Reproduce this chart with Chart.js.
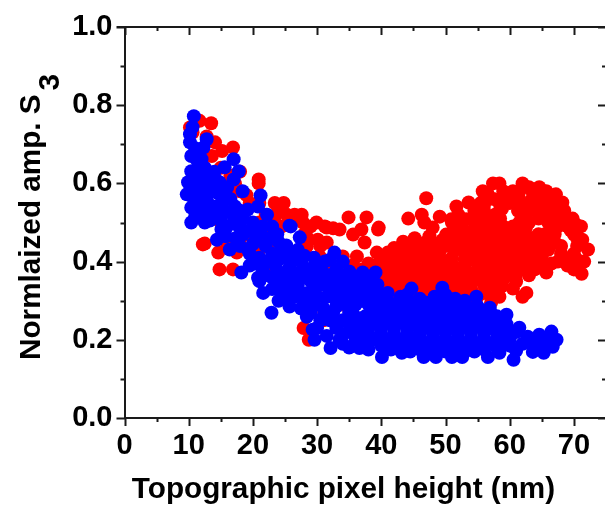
<!DOCTYPE html>
<html>
<head>
<meta charset="utf-8">
<script src="https://cdn.jsdelivr.net/npm/chart.js@4/dist/chart.umd.min.js"></script>
<style>
  html, body { margin: 0; padding: 0; background: #fff; overflow: hidden; width: 605px; height: 508px; }
</style>
</head>
<body>
<canvas id="myChart" width="613" height="508"></canvas>
<script>
const xTitle = 'Topographic pixel height (nm)';
const yTitle = 'Normlaized amp. S';
const ySub = '3';
const xMajor = [0, 10, 20, 30, 40, 50, 60, 70];
const xMinor = [5, 15, 25, 35, 45, 55, 65, 75];
const yMajor = [0, 0.2, 0.4, 0.6, 0.8, 1.0];
const yMinor = [0.1, 0.3, 0.5, 0.7, 0.9];

// red, falling branch on the left
const redLeft = [
  [10.2,.743],[10.6,.73],[11.7,.76],[13.5,.754],[12.8,.72],[14.1,.705],[15.2,.683],[16.9,.692],[13.6,.67],
  [12,.65],[15,.64],[16.5,.62],[18,.63],[17.2,.6],[16.4,.575],[20.9,.61],[20.9,.6],[19,.57],[21,.55],
  [23.4,.55],[24.8,.55],[25.3,.52],[23.6,.52],[22,.52],[27.6,.52],[26,.5],[24.5,.49],[29.9,.5],[31.2,.49],
  [27.8,.5],[28,.47],[30.1,.456],[31.5,.449],[31.5,.487],[33.5,.482],[34.9,.513],[37.7,.513],[36.9,.482],
  [35.6,.469],[39.6,.487],[39.5,.482],[37.4,.449],[28.4,.439],[12.2,.444],[12.5,.446],[14.6,.423],[14.8,.38],
  [16.9,.38],[17.5,.423],[18,.444],[16,.44],[19,.47],[21,.43],[21,.5],[18,.51],[15,.5],[13,.52],[22,.47],
  [24,.44],[23,.39],[26,.4],[27,.36],[26,.33],[29,.38],[30.4,.413],[32,.39],[34,.413],[36.2,.413],
  [33,.37],[35,.36],[37,.38],[33,.33],[30,.31],[28.7,.2],[27.9,.23],[29,.27],[31,.25],[34,.29],[36,.31],
  [29,.49],[32.5,.485],[28.5,.46],[26.5,.52],[24,.53],[22.5,.5],[19.5,.55],[18,.58],[38,.395],[35.5,.39],[30.5,.44]
];
// red, large cloud on the right
const redCloud = [
  [39.3,.423],[41,.423],[43.4,.451],[45.2,.46],[47,.45],[50.1,.469],[48,.487],[46.7,.5],[46.3,.52],[44.2,.51],
  [47,.562],[49.1,.515],[50.9,.508],[51.7,.541],[53.6,.551],[53.2,.508],[55.8,.58],[57.4,.6],[58.4,.6],[62,.6],
  [60.5,.58],[64.6,.59],[65.7,.58],[67.2,.572],[68.2,.551],[67.4,.52],[69.8,.51],[71.1,.49],[71.3,.456],
  [72.2,.431],[71.6,.4],[71.2,.369],[70,.38],[68.5,.41],[65.7,.372],[63.9,.38],[62.6,.387],[60.9,.362],
  [61,.349],[60.5,.331],[62.6,.32],[62,.31],[58.7,.336],[57.9,.367],[58.4,.31],[57.1,.295],
  [55.5,.55],[57.5,.56],[59.5,.56],[61.5,.56],[63.5,.56],[65.5,.55],[56,.53],[57.7,.52],[61.3,.53],[63,.53],
  [65,.52],[66.3,.54],[61.5,.5],[63,.5],[66,.5],[67.5,.49],[55,.5],[57,.49],[59,.49],[54,.47],[56,.46],
  [58,.46],[60,.47],[62,.47],[63.5,.46],[65.5,.47],[67,.47],[69.5,.48],[70.5,.46],[51.5,.48],[53,.45],
  [49,.44],[47,.43],[45,.43],[43,.42],[41,.4],[39,.39],[38.5,.36],[40.5,.37],[42.5,.39],[44.5,.4],[46.5,.4],
  [48,.41],[51.5,.43],[53,.42],[55,.43],[57,.43],[59,.43],[61,.44],[62.5,.43],[64.3,.43],[66,.45],[68,.44],
  [70,.42],[69,.39],[64.5,.4],[66.5,.395],[62.5,.41],[60.5,.41],[58.5,.4],[56.5,.4],[55,.395],
  [53,.39],[51.5,.385],[49.5,.38],[47.5,.37],[45.5,.37],[43.5,.36],[41.5,.34],[43,.33],[45,.34],[47,.34],
  [49,.35],[51,.355],[52.5,.36],[55.8,.37],[56,.34],[54,.33],[52,.325],[50,.32],[48,.31],[46,.31],[44,.3],
  [42,.31],[55,.31],[52.5,.3],[40,.33],[38,.34],[39,.31]
];
// red, gaps between the cloud points above
const redFill = [
  [56.5,.575],[59,.58],[61.5,.58],[63.5,.58],[66.5,.56],[54.5,.53],[58.8,.535],[62,.545],[64.5,.54],[67,.54],
  [56,.51],[58.5,.51],[62.2,.515],[64.5,.51],[66.5,.515],[68.5,.5],[70.3,.495],[52.5,.49],[54.5,.485],[56,.48],
  [58,.475],[60.5,.49],[62.5,.485],[64.5,.47],[66.5,.485],[66.5,.465],[45,.445],[47.5,.465],[49.5,.455],
  [52,.46],[54.5,.45],[57,.45],[59,.45],[61,.455],[63,.445],[65,.45],[67,.45],[68,.42],[70.5,.44],[40,.41],[42,.41],
  [44,.41],[46,.415],[49,.42],[51,.41],[53,.405],[55,.415],[57,.415],[59,.415],[61,.425],[63.5,.415],[65,.415],
  [70.5,.405],[38.5,.375],[40,.385],[42,.375],[44,.38],[46,.385],[48,.39],[50.5,.395],[54,.37],[56,.385],[58,.385],
  [60,.39],[61.5,.395],[63,.4],[65,.385],[67.5,.4],[39.5,.35],[41.5,.36],[44,.345],[46,.355],[48,.355],[50,.365],
  [52,.37],[57,.35],[59,.355],[60,.375],[42,.325],[44.5,.32],[46.5,.325],[49,.335],[51,.335],[53,.345],[55,.355],
  [57.5,.325],[53.5,.315],[56,.32],[50,.305],[47,.295],[41,.305]
];
// red, the solid left side of the cloud
const redDense = [
  [40.5,.405],[42,.435],[43,.4],[44,.435],[45,.415],[46,.445],[47,.41],[48,.445],[48.5,.425],[50,.44],[51,.45],
  [50,.4],[49,.395],[47,.385],[45,.39],[43,.37],[41,.355],[42.5,.35],[44.5,.36],[46.5,.37],[48.5,.37],[50.5,.375],
  [52.5,.38],[53.5,.41],[52,.44],[55,.44],[56.5,.44],[58,.44],[60,.44],[54,.43],[53,.47],[55,.47],[57,.47],[51,.5],
  [52,.52],[54.5,.515],[56,.545],[58.5,.545],[60,.55],[60.3,.56],[63,.59],[67,.55],[65,.57],[66,.53],[68.5,.53],
  [69,.49],[70,.47],[66,.43],[64,.44],[62,.45],[60,.45],[58,.42],[56,.41],[57,.38],[59,.37],[61,.37],[63,.365],
  [46,.33],[48,.33],[50,.34],[52,.35],[54,.35],[56,.355],[58,.345],[45,.31],[47,.32],[51,.315],[54,.3]
];
// blue, falling branch on the left
const blueLeft = [
  [10.8,.772],[10.6,.744],[10.2,.726],[10.2,.705],[12.8,.713],[12.3,.692],[10.4,.67],[12,.662],[17,.662],
  [15.6,.641],[17.8,.631],[17,.61],[18.4,.58],[21.2,.569],[10.4,.631],[9.9,.603],[9.7,.572],[10.4,.538],
  [10.4,.5],[14.8,.603],[17.2,.541],[19.2,.533],[20.8,.541],[22.2,.52],[25.7,.492],[25.9,.49],[14.4,.456],
  [15.1,.482],[16.4,.431],[18.2,.372],[19.2,.431],[22.9,.269],[21.6,.32],[20.8,.359],[25.2,.441],[27.3,.462],
  [32.7,.423],[34,.4],[31.2,.4],[25.7,.285],[28.4,.259],[29.6,.2],[29.3,.226],[12,.64],[11.5,.61],[13,.62],
  [14,.63],[12,.58],[13.8,.59],[11.5,.55],[13,.55],[15,.57],[16,.59],[16.5,.56],[12,.52],[14,.52],[15.5,.53],
  [17,.5],[18.5,.51],[16,.49],[12.5,.5],[20,.5],[21.5,.49],[23,.49],[18.5,.47],[20.5,.46],[22.5,.46],[24,.45],
  [19.5,.42],[21,.41],[23,.42],[25,.41],[27,.43],[19.5,.39],[21.5,.38],[23.5,.39],[25.5,.38],[27.5,.4],[29.5,.41],
  [21,.35],[23,.36],[25,.35],[27,.37],[29,.38],[23,.33],[25,.32],[27,.34],[29,.35],[31,.37],[33,.38],[35,.375],
  [24,.3],[26.5,.31],[28.5,.32],[30.5,.34],[32.5,.35],[34.5,.35],[27.5,.28],[29.5,.29],[31.5,.31],[33.5,.32],
  [35.5,.33],[37,.35],[30.5,.25],[32.5,.27],[34.5,.29],[36.5,.31]
];
// blue, gaps in the left branch
const blueLeftFill = [
  [11,.69],[11.3,.66],[12.5,.64],[11,.62],[12.5,.605],[14.2,.61],[11,.585],[12.8,.57],[14.5,.575],[10.8,.56],
  [12.3,.535],[14,.54],[15.2,.55],[16.5,.525],[18,.53],[11,.515],[13.3,.505],[15,.505],[17.8,.49],[19.5,.48],
  [21,.475],[15.8,.465],[17.3,.46],[18,.44],[20,.445],[22,.44],[23.8,.47],[24.5,.43],[26.3,.42],[20.5,.395],
  [22.3,.4],[24,.405],[26,.4],[28,.415],[22,.365],[24,.37],[26,.365],[28,.385],[30,.395],[32,.405],[24,.345],
  [26,.34],[28,.36],[30,.365],[32,.365],[34,.365],[24.5,.32],[27.5,.32],[29.5,.33],[31.5,.34],[33.5,.34],[35.5,.35],
  [25.5,.3],[28,.3],[30,.31],[32,.32],[34.5,.32],[36.3,.34],[29,.27],[31,.28],[33,.3],[35.5,.31],[37.5,.32],[30,.23],
  [31,.26],[33,.285],[35,.27]
];
// blue, flat band along the bottom
const blueBand = [
  [39.1,.372],[37.1,.372],[39.4,.341],[37.9,.328],[41,.32],[44.7,.331],[49.5,.333],[48.3,.31],[54.8,.31],[51.5,.305],
  [56.9,.282],[59.5,.264],[61.5,.231],[62.8,.208],[64.6,.213],[66.5,.221],[67.3,.2],[66.7,.182],[65.3,.167],
  [63.6,.169],[61,.172],[60.6,.149],[58.4,.167],[56.6,.156],[52.6,.156],[51,.156],[48.5,.156],[46.6,.156],
  [43.2,.167],[40.1,.156],[36.6,.179],[32.1,.179],[33.5,.2],[35,.18],[38,.175],[41.5,.175],[44.5,.17],[50,.17],
  [54.5,.17],[31.5,.21],[33,.23],[35,.22],[37,.2],[39,.2],[41,.2],[43,.2],[45,.2],[47,.19],[49,.19],[51,.19],
  [53,.19],[55,.19],[57,.19],[59,.19],[32,.25],[34,.25],[36,.24],[38,.23],[40,.23],[42,.23],[44,.23],[46,.22],
  [48,.22],[50,.22],[52,.22],[54,.22],[56,.22],[58,.22],[60,.21],[35.5,.27],[37.5,.26],[39.5,.26],[41.5,.26],
  [43.5,.26],[45.5,.25],[47.5,.25],[49.5,.25],[51.5,.25],[53.5,.25],[55.5,.25],[57.5,.24],[59.5,.24],[38,.29],
  [40,.29],[42,.29],[44,.29],[46,.28],[48,.28],[50,.28],[52,.28],[54,.28],[56,.27],[58,.26],[43,.31],[46,.305],
  [53,.3],[64,.19],[65.5,.195]
];
// blue, gaps in the bottom band
const blueBandFill = [
  [34,.19],[36,.2],[38,.195],[40,.185],[42,.19],[44,.185],[46,.175],[48,.175],[52,.175],[53,.17],[56,.175],[58,.18],
  [60,.185],[62,.19],[63.5,.195],[65.5,.18],[34,.215],[36,.22],[38,.215],[40,.215],[42,.215],[44,.215],[46,.205],
  [48,.205],[50,.205],[52,.205],[54,.205],[56,.205],[58,.205],[60,.2],[33,.24],[35,.24],[37,.23],[39,.245],[41,.245],
  [43,.245],[45,.24],[47,.235],[49,.235],[51,.235],[53,.235],[55,.235],[57,.23],[59,.23],[61,.22],[36.5,.255],
  [38.5,.275],[40.5,.275],[42.5,.275],[44.5,.27],[46.5,.265],[48.5,.265],[50.5,.265],[52.5,.265],[54.5,.265],
  [56.5,.255],[58.5,.25],[36,.29],[37,.3],[39,.3],[41,.3],[43,.295],[45,.295],[47,.295],[49,.295],[51,.295],[53,.285],
  [55,.285],[57,.27],[44,.315],[50,.315],[39.5,.32],[38,.35],[36,.355]
];

const redPoints = redLeft.concat(redCloud, redFill, redDense);
const bluePoints = blueLeft.concat(blueLeftFill, blueBand, blueBandFill);

const toXY = (p) => ({ x: p[0], y: p[1] });
const axisColor = '#1a1a1a';

// ticks on all four sides plus the top and right frame lines, and the axis titles
const framePlugin = {
  id: 'frame',
  afterDraw(chart) {
    const ctx = chart.ctx;
    const { left, right, top, bottom } = chart.chartArea;
    const xs = chart.scales.x;
    const ys = chart.scales.y;
    ctx.save();
    ctx.strokeStyle = axisColor;
    ctx.lineWidth = 2;
    ctx.beginPath();
    ctx.moveTo(left, top); ctx.lineTo(right, top); ctx.lineTo(right, bottom);
    ctx.moveTo(left - 8, top); ctx.lineTo(left, top);
    const xTick = (v, len) => {
      const px = Math.round(xs.getPixelForValue(v)) + 0.5;
      ctx.moveTo(px, bottom); ctx.lineTo(px, bottom + len);
      ctx.moveTo(px, top); ctx.lineTo(px, top + len);
    };
    const yTick = (v, len) => {
      const py = Math.round(ys.getPixelForValue(v)) + 0.5;
      ctx.moveTo(left, py); ctx.lineTo(left - len, py);
      ctx.moveTo(right, py); ctx.lineTo(right - len, py);
    };
    xMajor.forEach(v => xTick(v, 8));
    xMinor.forEach(v => xTick(v, 4));
    yMajor.forEach(v => yTick(v, 8));
    yMinor.forEach(v => yTick(v, 4));
    ctx.stroke();

    ctx.fillStyle = '#000';
    ctx.font = 'bold 29.7px "Liberation Sans"';
    ctx.textBaseline = 'alphabetic';
    ctx.textAlign = 'center';
    ctx.fillText(xTitle, 343.5, 498);

    ctx.translate(40, 360);
    ctx.rotate(-Math.PI / 2);
    ctx.textAlign = 'left';
    ctx.fillText(yTitle, 0, 0);
    const w = ctx.measureText(yTitle).width;
    ctx.fillText(ySub, w + 4, 19);
    ctx.restore();
  }
};

const config = {
  type: 'scatter',
  data: {
    datasets: [
      { label: 'red', data: redPoints.map(toXY), backgroundColor: '#ff0000', order: 2 },
      { label: 'blue', data: bluePoints.map(toXY), backgroundColor: '#0000ff', order: 1 }
    ]
  },
  options: {
    responsive: false,
    animation: false,
    layout: { padding: { top: 27, right: 0, left: 0, bottom: 0 } },
    elements: { point: { radius: 7, borderWidth: 0 } },
    plugins: { legend: { display: false }, tooltip: { enabled: false } },
    scales: {
      x: {
        type: 'linear', min: 0, max: 75,
        grid: { display: false },
        border: { display: true, color: axisColor, width: 2 },
        afterFit(scale) { scale.height = 90; scale.paddingLeft = 0; scale.paddingRight = 0; },
        ticks: {
          stepSize: 5, autoSkip: false, maxRotation: 0, padding: 3, color: '#000',
          font: { family: 'Liberation Sans', weight: 'bold', size: 29 },
          callback: (v) => (xMajor.includes(v) ? String(v) : '')
        }
      },
      y: {
        type: 'linear', min: 0, max: 1,
        grid: { display: false },
        border: { display: true, color: axisColor, width: 2 },
        afterFit(scale) { scale.width = 124.5; scale.paddingTop = 0; scale.paddingBottom = 0; },
        ticks: {
          stepSize: 0.1, autoSkip: false, padding: 4, color: '#000',
          font: { family: 'Liberation Sans', weight: 'bold', size: 29 },
          callback: (v) => (Math.round(v * 10) % 2 === 0 ? v.toFixed(1) : '')
        }
      }
    }
  },
  plugins: [framePlugin]
};

const myChart = new Chart(document.getElementById('myChart'), config);
</script>
</body>
</html>
